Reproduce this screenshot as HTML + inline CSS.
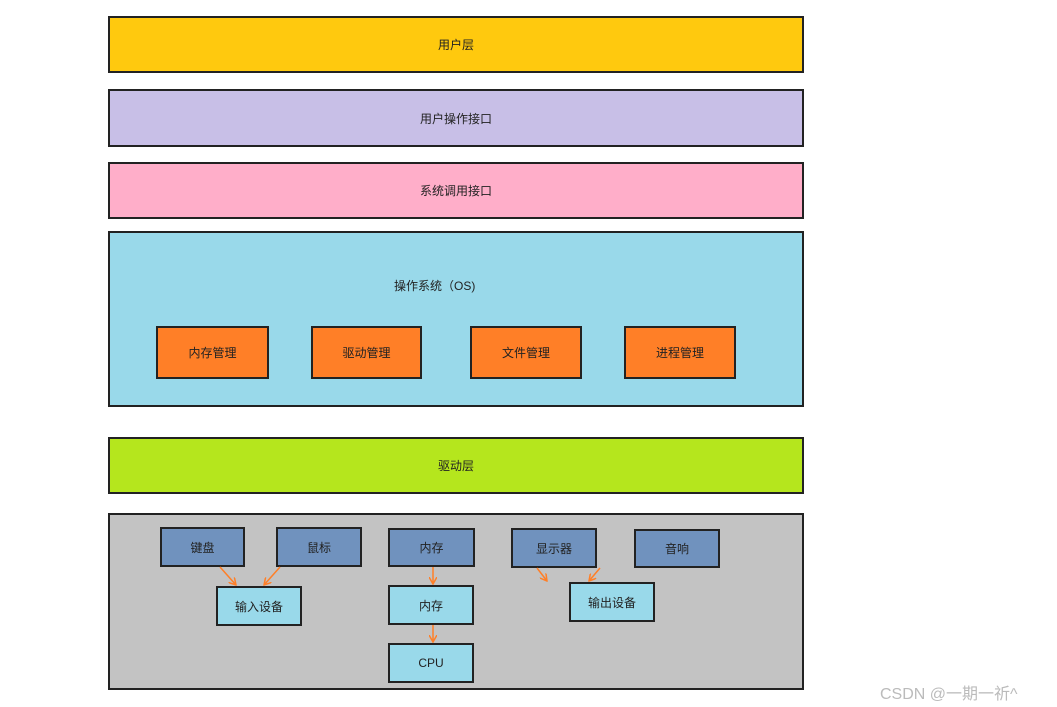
<!DOCTYPE html>
<html><head><meta charset="utf-8"><style>
body{margin:0;width:1057px;height:707px;background:#fff;position:relative;overflow:hidden;font-family:"Liberation Sans","Noto Sans CJK SC",sans-serif;font-size:12px;color:#222}
.b{position:absolute;box-sizing:border-box;border:2px solid #222;display:flex;align-items:center;justify-content:center}
.t{position:absolute;font-size:12px}
</style></head><body>
<div class="b" style="left:108px;top:16px;width:696px;height:57px;background:#FFC90E">用户层</div>
<div class="b" style="left:108px;top:89px;width:696px;height:58px;background:#C8BFE7">用户操作接口</div>
<div class="b" style="left:108px;top:162px;width:696px;height:57px;background:#FFAEC9">系统调用接口</div>
<div class="b" style="left:108px;top:231px;width:696px;height:176px;background:#99D9EA"></div>
<div class="t" style="left:394px;top:277px">操作系统（OS)</div>
<div class="b" style="left:156px;top:326px;width:113px;height:53px;background:#FF7F27">内存管理</div>
<div class="b" style="left:311px;top:326px;width:111px;height:53px;background:#FF7F27">驱动管理</div>
<div class="b" style="left:470px;top:326px;width:112px;height:53px;background:#FF7F27">文件管理</div>
<div class="b" style="left:624px;top:326px;width:112px;height:53px;background:#FF7F27">进程管理</div>
<div class="b" style="left:108px;top:437px;width:696px;height:57px;background:#B5E61D">驱动层</div>
<div class="b" style="left:108px;top:513px;width:696px;height:177px;background:#C3C3C3"></div>
<div class="b" style="left:160px;top:527px;width:85px;height:40px;background:#7092BE">键盘</div>
<div class="b" style="left:276px;top:527px;width:86px;height:40px;background:#7092BE">鼠标</div>
<div class="b" style="left:388px;top:528px;width:87px;height:39px;background:#7092BE">内存</div>
<div class="b" style="left:511px;top:528px;width:86px;height:40px;background:#7092BE">显示器</div>
<div class="b" style="left:634px;top:529px;width:86px;height:39px;background:#7092BE">音响</div>
<div class="b" style="left:216px;top:586px;width:86px;height:40px;background:#99D9EA">输入设备</div>
<div class="b" style="left:388px;top:585px;width:86px;height:40px;background:#99D9EA">内存</div>
<div class="b" style="left:388px;top:643px;width:86px;height:40px;background:#99D9EA">CPU</div>
<div class="b" style="left:569px;top:582px;width:86px;height:40px;background:#99D9EA">输出设备</div>
<svg width="1057" height="707" style="position:absolute;left:0;top:0">
<defs><marker id="a" markerWidth="8" markerHeight="8" refX="7" refY="4" orient="auto" markerUnits="userSpaceOnUse"><path d="M0,0 L7,4 L0,8" fill="none" stroke="#FF7F27" stroke-width="1.5"/></marker></defs>
<g stroke="#FF7F27" stroke-width="1.5" marker-end="url(#a)">
<line x1="220" y1="567" x2="236" y2="585"/>
<line x1="280" y1="567" x2="264" y2="585"/>
<line x1="433" y1="567" x2="433" y2="584"/>
<line x1="433" y1="625" x2="433" y2="642"/>
<line x1="537" y1="568" x2="547" y2="581"/>
<line x1="600" y1="568" x2="589" y2="581"/>
</g></svg>
<div class="t" style="left:880px;top:680px;font-size:16px;color:#bbb">CSDN @一期一祈^</div>
</body></html>
